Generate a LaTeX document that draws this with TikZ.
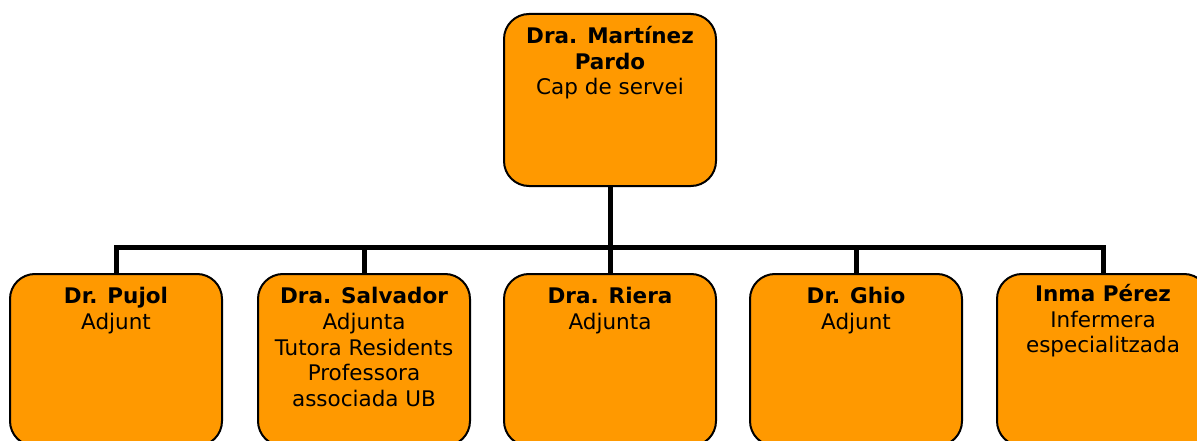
\documentclass[tikz,border=0pt]{standalone}
\usepackage{fontspec}
\setmainfont{DejaVu Sans}
\definecolor{boxorange}{HTML}{FF9900}
\begin{document}
\begin{tikzpicture}[x=1pt,y=-1pt,
  box/.style={draw=black,line width=2pt,fill=boxorange,rounded corners=25pt,
    minimum width=212pt,minimum height=172pt,inner sep=0pt,anchor=north},
  txt/.style={anchor=north,align=center,inner sep=0pt,
    font=\fontsize{21.5}{25.8}\selectfont},
  conn/.style={line width=5pt,draw=black}]
\useasboundingbox (0,0) rectangle (1197,441);
\clip (0,0) rectangle (1197,441);
\fill[white] (0,0) rectangle (1197,441);
\coordinate (bus) at (610,247);
\node[box] (top) at (610,13) {};
\node[box] (b1) at (116,273) {};
\node[box] (b2) at (364,273) {};
\node[box] (b3) at (610,273) {};
\node[box] (b4) at (856,273) {};
\node[box] (b5) at (1103,273) {};
\draw[conn] (top.south) -- (top.south |- bus);
\draw[conn] (b1.north) -- (b1.north |- bus) -- (b5.north |- bus) -- (b5.north);
\draw[conn] (b2.north |- bus) -- (b2.north);
\draw[conn] (b3.north |- bus) -- (b3.north);
\draw[conn] (b4.north |- bus) -- (b4.north);
\node[txt] (ttop) at (610,26) {\textbf{Dra. Martínez}\\\textbf{Pardo}\\Cap de servei};
\node[txt] (t1) at (116,287) {\textbf{Dr. Pujol}\\Adjunt};
\node[txt] (t2) at (364,287) {\textbf{Dra. Salvador}\\Adjunta\\Tutora Residents\\Professora\\associada UB};
\node[txt] (t3) at (610,287) {\textbf{Dra. Riera}\\Adjunta};
\node[txt] (t4) at (856,287) {\textbf{Dr. Ghio}\\Adjunt};
\node[txt] (t5) at (1103,284) {\textbf{Inma Pérez}\\Infermera\\especialitzada};
\end{tikzpicture}
\end{document}
